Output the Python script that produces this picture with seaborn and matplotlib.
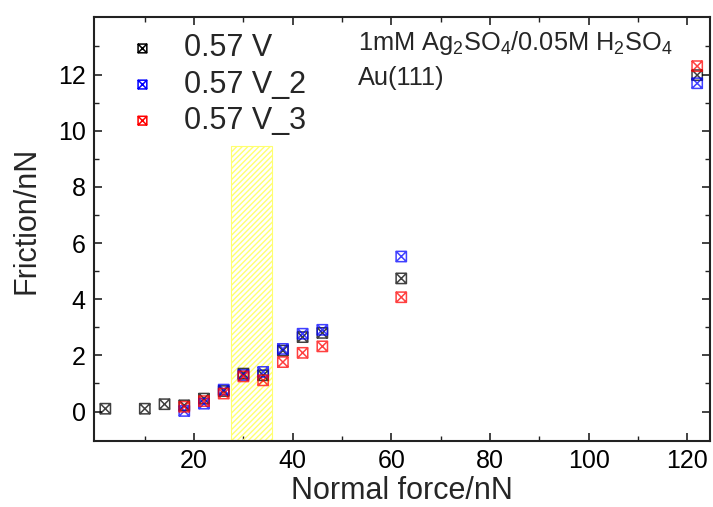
import numpy as np
import pandas as pd
import matplotlib
matplotlib.use("Agg")
import matplotlib.pyplot as plt
from matplotlib.path import Path
from matplotlib.patches import Rectangle
import seaborn as sns

# ---- data ----
normal_force = [2, 10, 14, 18, 22, 26, 30, 34, 38, 42, 46, 62, 122]
friction_v1 = [0.10, 0.10, 0.26, 0.22, 0.46, 0.73, 1.35, 1.29, 2.17, 2.65, 2.80, 4.74, 11.98]
force_v2 = [18, 22, 26, 30, 34, 38, 42, 46, 62, 122]
friction_v2 = [0.02, 0.28, 0.78, 1.30, 1.41, 2.23, 2.77, 2.91, 5.52, 11.69]
force_v3 = [18, 22, 26, 30, 34, 38, 42, 46, 62, 122]
friction_v3 = [0.17, 0.37, 0.64, 1.25, 1.11, 1.76, 2.09, 2.32, 4.07, 12.30]
series_labels = ["0.57 V", "0.57 V_2", "0.57 V_3"]
series_colors = ["#000000", "#0000ff", "#ff0000"]
x_ticks = [20, 40, 60, 80, 100, 120]
y_ticks = [0, 2, 4, 6, 8, 10, 12]
band_x = (27.5, 35.8)
band_top = 9.45

sns.set_theme(style="white")
plt.rcParams['font.family'] = ['Liberation Sans', 'DejaVu Sans']
plt.rcParams['mathtext.fontset'] = 'custom'
plt.rcParams['mathtext.rm'] = 'Liberation Sans'
plt.rcParams['mathtext.it'] = 'Liberation Sans'
plt.rcParams['hatch.linewidth'] = 1.0

fig = plt.figure(figsize=(7.13, 5.07), dpi=100)
ax = fig.add_axes([94/713, 1-441/507, (710-94)/713, (441-17)/507])

# boxed-x marker
verts = [(-1, -1), (1, -1), (1, 1), (-1, 1), (-1, -1),
         (-1, -1), (1, 1), (-1, 1), (1, -1)]
codes = [Path.MOVETO, Path.LINETO, Path.LINETO, Path.LINETO, Path.CLOSEPOLY,
         Path.MOVETO, Path.LINETO, Path.MOVETO, Path.LINETO]
boxx = Path(verts, codes)

ylim = (-1.05, 14.05)
ax.add_patch(Rectangle((band_x[0], ylim[0]), band_x[1]-band_x[0], band_top-ylim[0],
                       facecolor='none', edgecolor='#ffff70', hatch='//////',
                       linewidth=0.8, zorder=1))

datasets = [(normal_force, friction_v1), (force_v2, friction_v2), (force_v3, friction_v3)]
for (xs, ys), lab, col in zip(datasets, series_labels, series_colors):
    df = pd.DataFrame({"x": xs, "y": ys})
    sns.scatterplot(data=df, x="x", y="y", ax=ax, marker=boxx, s=55,
                    facecolors='none', edgecolor=col, linewidth=1.1,
                    label=lab, alpha=0.75, zorder=3)

ax.set_xlim(-0.3, 124.6)
ax.set_ylim(*ylim)
ax.set_xticks(x_ticks)
ax.set_yticks(y_ticks)
ax.set_xticks([10, 30, 50, 70, 90, 110], minor=True)
ax.set_yticks([1, 3, 5, 7, 9, 11, 13], minor=True)
ax.tick_params(which='both', direction='in', top=True, right=True, bottom=True, left=True,
               colors='#222222', labelcolor='black')
ax.tick_params(which='major', length=6, width=1.2, labelsize=18, pad=6)
ax.tick_params(which='minor', length=3.5, width=1.0)
for sp in ax.spines.values():
    sp.set_color('#222222')
    sp.set_linewidth(1.5)

ax.set_xlabel("Normal force/nN", fontsize=22, labelpad=2)
ax.set_ylabel("Friction/nN", fontsize=22)
ax.yaxis.set_label_coords((26-94)/616, (441-220)/424)
ax.yaxis.label.set_verticalalignment('center')

ax.text((358-94)/616, (441-43)/424, r"1mM Ag$_2$SO$_4$/0.05M H$_2$SO$_4$",
        transform=ax.transAxes, fontsize=18.3, va='center', ha='left')
ax.text((358-94)/616, (441-78)/424, "Au(111)",
        transform=ax.transAxes, fontsize=18.3, va='center', ha='left')

leg = ax.legend(loc='upper left', bbox_to_anchor=(0.034, 0.99), frameon=False,
                fontsize=22, markerscale=0.85, handletextpad=0.87, labelspacing=0.2,
                handlelength=1.0, borderaxespad=0)
for h in leg.legend_handles:
    h.set_alpha(1)

fig.savefig("out.png", dpi=100)
